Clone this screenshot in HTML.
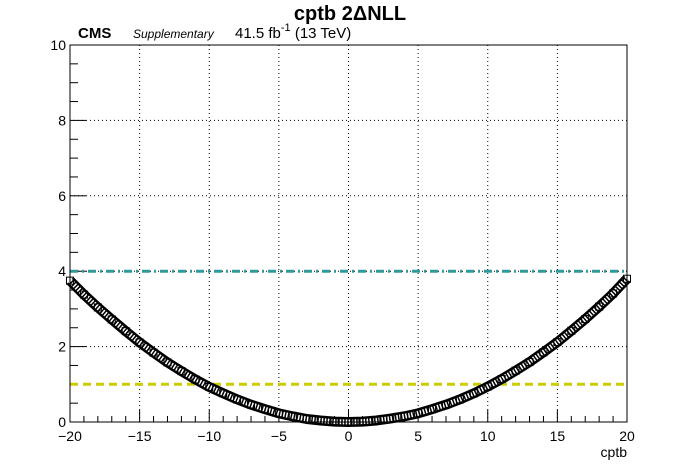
<!DOCTYPE html>
<html><head><meta charset="utf-8"><style>
body{margin:0;background:#fff}
svg{display:block;font-family:"Liberation Sans",Arial,sans-serif}
</style></head><body>
<svg id="c" width="696" height="472">
<text x="350" y="20" text-anchor="middle" font-size="20" font-weight="bold">cptb 2ΔNLL</text>
<text x="78" y="38" font-size="15" font-weight="bold">CMS</text>
<text x="133" y="38" font-size="12" font-style="italic">Supplementary</text>
<text x="235" y="38" font-size="15">41.5 fb<tspan dy="-7" font-size="11">-1</tspan><tspan dy="7"> (13 TeV)</tspan></text>
<text x="627" y="457" text-anchor="end" font-size="14">cptb</text>
</svg>
<script>
const xValues=[-20,-19,-18,-17,-16,-15,-14,-13,-12,-11,-10,-9,-8,-7,-6,-5,-4,-3,-2,-1,0,1,2,3,4,5,6,7,8,9,10,11,12,13,14,15,16,17,18,19,20];
const nllValues=[3.75,3.38,3.04,2.72,2.41,2.11,1.84,1.58,1.35,1.13,0.93,0.76,0.60,0.46,0.34,0.23,0.15,0.08,0.04,0.01,0,0.01,0.04,0.09,0.15,0.23,0.34,0.46,0.60,0.76,0.94,1.14,1.36,1.59,1.85,2.12,2.42,2.73,3.06,3.41,3.80];
const xTicks=[-20,-15,-10,-5,0,5,10,15,20];
const yTicks=[0,2,4,6,8,10];
const refLevels=[4,1];
const L=70,R=627,T=45,B=422,xmin=-20,xmax=20,ymin=0,ymax=10;
const sx=v=>L+(v-xmin)/(xmax-xmin)*(R-L);
const sy=v=>B-(v-ymin)/(ymax-ymin)*(B-T);
const svg=document.getElementById('c');const NS='http://www.w3.org/2000/svg';
function mk(t,a,p){const e=document.createElementNS(NS,t);for(const k in a)e.setAttribute(k,a[k]);(p||svg).appendChild(e);return e;}
xTicks.forEach(v=>{if(v>xmin&&v<xmax){const g=mk('line',{x1:sx(v),x2:sx(v),y1:T,y2:B,stroke:'#000','stroke-width':1,'stroke-dasharray':'1,3'});

}});
yTicks.forEach(v=>{if(v>ymin&&v<ymax){const g=mk('line',{x1:L,x2:R,y1:sy(v),y2:sy(v),stroke:'#000','stroke-width':1,'stroke-dasharray':'1,3'});

}});
for(let v=xmin;v<=xmax;v+=1){const major=xTicks.includes(v);const t=mk('line',{x1:sx(v),x2:sx(v),y1:B,y2:B-(major?12:6),stroke:'#000'});

}
for(let v=ymin;v<=ymax+1e-9;v+=0.5){const major=Math.abs(v/2-Math.round(v/2))<1e-6;const t=mk('line',{x1:L,x2:L+(major?16:8),y1:sy(v),y2:sy(v),stroke:'#000'});

}
xTicks.forEach(v=>{const t=mk('text',{x:sx(v),y:441,'text-anchor':'middle','font-size':14});t.textContent=(v<0?'\u2212'+(-v):v);

});
yTicks.forEach(v=>{const t=mk('text',{x:L-4,y:sy(v)+5,'text-anchor':'end','font-size':14});t.textContent=v;

});
const r1=mk('line',{x1:L,x2:R,y1:sy(refLevels[0]),y2:sy(refLevels[0]),stroke:'#2e9a9a','stroke-width':3,'stroke-dasharray':'8,4,2,4'});


const r2=mk('line',{x1:L,x2:R,y1:sy(refLevels[1]),y2:sy(refLevels[1]),stroke:'#cccc00','stroke-width':3,'stroke-dasharray':'8,5'});


const d=xValues.map((x,i)=>(i?'L':'M')+sx(x)+','+sy(nllValues[i])).join(' ');
const c1=mk('path',{d:d,fill:'none',stroke:'#000','stroke-width':10,'stroke-linejoin':'round'});


const c2=mk('path',{d:d,fill:'none',stroke:'#fff','stroke-width':5,'stroke-dasharray':'1.5,1.5','stroke-linejoin':'round'});


xValues.forEach((x,i)=>{const m=mk('rect',{x:sx(x)-3.5,y:sy(nllValues[i])-3.5,width:7,height:7,fill:'none',stroke:'#000','stroke-width':1});

});
const f=mk('rect',{x:L,y:T,width:R-L,height:B-T,fill:'none',stroke:'#000','stroke-width':1});


</script>
</body></html>
